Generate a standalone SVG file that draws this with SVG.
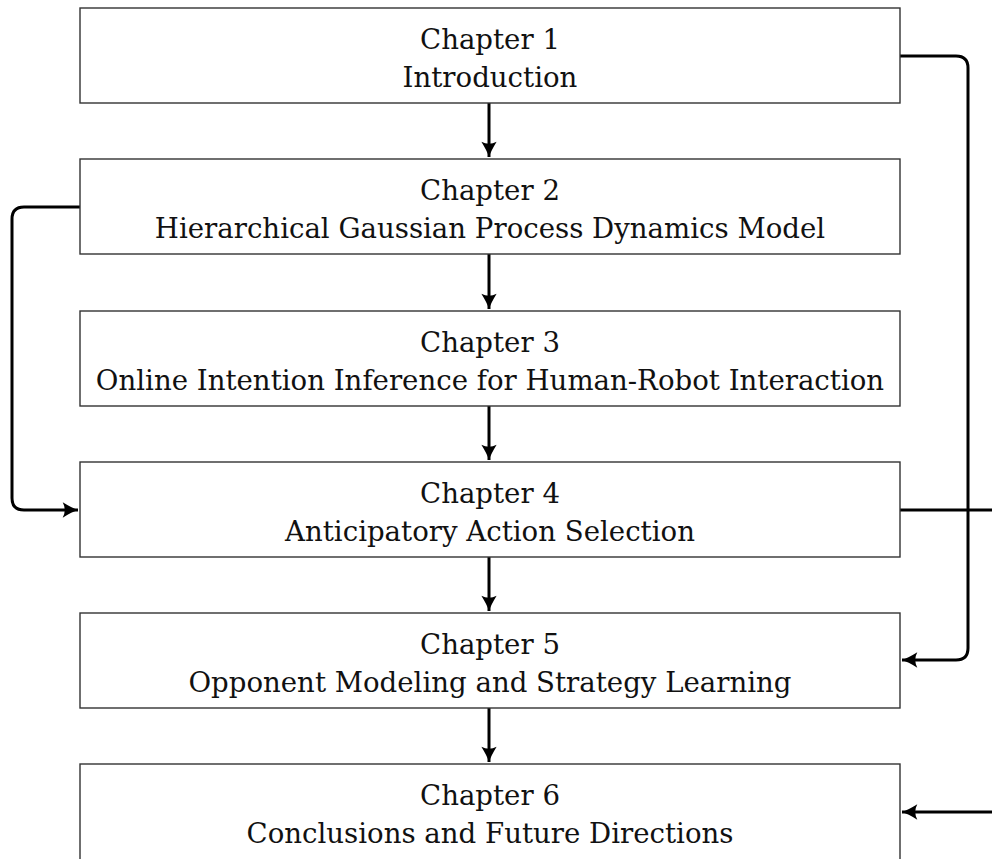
<svg xmlns="http://www.w3.org/2000/svg" width="992" height="859" viewBox="0 0 992 859">
<style>
.box{fill:#fff;stroke:#333;stroke-width:1.4}
.t{font-family:"DejaVu Serif","Liberation Serif",serif;font-size:27.6px;fill:#111;text-anchor:middle}
.c{fill:none;stroke:#000;stroke-width:3;stroke-linecap:butt}
</style>
<defs>
<marker id="ah" markerUnits="userSpaceOnUse" markerWidth="20" markerHeight="20" viewBox="-15 -8 17 16" refX="0" refY="0" orient="auto">
<path d="M-13,-6.5 Q-5,-1.5 0,0 Q-5,1.5 -13,6.5 Q-9.5,0 -13,-6.5 Z" fill="#000"/>
</marker>
</defs>
<rect width="992" height="859" fill="#fff"/>
<g id="connectors">
<path class="c" d="M489,103 V157" marker-end="url(#ah)"/>
<path class="c" d="M489,254 V309" marker-end="url(#ah)"/>
<path class="c" d="M489,406 V460" marker-end="url(#ah)"/>
<path class="c" d="M489,557 V611" marker-end="url(#ah)"/>
<path class="c" d="M489,708 V762" marker-end="url(#ah)"/>
<path class="c" d="M900,56 H956 Q968,56 968,68 V648 Q968,660 956,660 H902" marker-end="url(#ah)"/>
<path class="c" d="M80,207 H24 Q12,207 12,219 V498 Q12,510 24,510 H78" marker-end="url(#ah)"/>
<path class="c" d="M900,510 H996"/>
<path class="c" d="M996,812 H902" marker-end="url(#ah)"/>
</g>
<g id="ch1"><rect class="box" x="80" y="8" width="820" height="95"/><text class="t" x="490" y="49">Chapter 1</text><text class="t" x="490" y="87">Introduction</text></g>
<g id="ch2"><rect class="box" x="80" y="159" width="820" height="95"/><text class="t" x="490" y="200">Chapter 2</text><text class="t" x="490" y="238">Hierarchical Gaussian Process Dynamics Model</text></g>
<g id="ch3"><rect class="box" x="80" y="311" width="820" height="95"/><text class="t" x="490" y="352">Chapter 3</text><text class="t" x="490" y="390">Online Intention Inference for Human-Robot Interaction</text></g>
<g id="ch4"><rect class="box" x="80" y="462" width="820" height="95"/><text class="t" x="490" y="503">Chapter 4</text><text class="t" x="490" y="541">Anticipatory Action Selection</text></g>
<g id="ch5"><rect class="box" x="80" y="613" width="820" height="95"/><text class="t" x="490" y="654">Chapter 5</text><text class="t" x="490" y="692">Opponent Modeling and Strategy Learning</text></g>
<g id="ch6"><rect class="box" x="80" y="764" width="820" height="100"/><text class="t" x="490" y="805">Chapter 6</text><text class="t" x="490" y="843">Conclusions and Future Directions</text></g>
</svg>
